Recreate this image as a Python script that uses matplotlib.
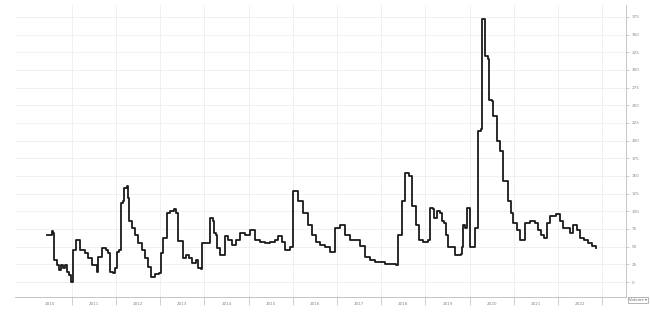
import numpy as np
import matplotlib
matplotlib.use("Agg")
import matplotlib.pyplot as plt

# dates as decimal years
t = [2010.43, 2010.55, 2010.57, 2010.59, 2010.66, 2010.71, 2010.75, 2010.80, 2010.84, 2010.89,
     2010.93, 2010.99, 2011.02, 2011.09, 2011.16, 2011.18, 2011.29, 2011.36, 2011.45, 2011.57,
     2011.59, 2011.68, 2011.77, 2011.81, 2011.86, 2011.93, 2011.97, 2012.02, 2012.06, 2012.11,
     2012.15, 2012.18, 2012.24, 2012.27, 2012.29, 2012.36, 2012.43, 2012.49, 2012.58, 2012.65,
     2012.72, 2012.79, 2012.88, 2012.97, 2013.01, 2013.06, 2013.15, 2013.22, 2013.31, 2013.35,
     2013.40, 2013.51, 2013.58, 2013.65, 2013.72, 2013.81, 2013.85, 2013.92, 2013.94, 2014.06,
     2014.12, 2014.19, 2014.21, 2014.26, 2014.28, 2014.35, 2014.42, 2014.46, 2014.53, 2014.62,
     2014.71, 2014.80, 2014.92, 2015.03, 2015.14, 2015.26, 2015.37, 2015.48, 2015.59, 2015.66,
     2015.75, 2015.82, 2015.93, 2016.00, 2016.12, 2016.23, 2016.34, 2016.43, 2016.52, 2016.61,
     2016.73, 2016.84, 2016.95, 2017.07, 2017.18, 2017.29, 2017.41, 2017.52, 2017.63, 2017.75,
     2017.86, 2018.08, 2018.33, 2018.38, 2018.47, 2018.54, 2018.63, 2018.70, 2018.79, 2018.85,
     2018.94, 2019.06, 2019.10, 2019.17, 2019.19, 2019.26, 2019.33, 2019.37, 2019.42, 2019.47,
     2019.51, 2019.67, 2019.80, 2019.83, 2019.85, 2019.90, 2019.94, 2019.96, 2020.01, 2020.08,
     2020.12, 2020.19, 2020.26, 2020.28, 2020.33, 2020.35, 2020.42, 2020.44, 2020.51, 2020.53,
     2020.60, 2020.62, 2020.69, 2020.76, 2020.82, 2020.87, 2020.94, 2020.98, 2021.07, 2021.14,
     2021.21, 2021.25, 2021.37, 2021.48, 2021.55, 2021.62, 2021.68, 2021.75, 2021.82, 2021.96,
     2022.05, 2022.11, 2022.20, 2022.27, 2022.34, 2022.43, 2022.50, 2022.59, 2022.68, 2022.77,
     2022.86]
values = [66, 72, 70, 31, 24, 17, 24, 20, 24, 14,
          10, 0, 45, 60, 59, 45, 41, 34, 24, 14,
          35, 48, 46, 41, 14, 13, 20, 42, 45, 112,
          115, 133, 136, 119, 87, 76, 66, 55, 45, 34,
          21, 7, 11, 13, 41, 62, 97, 101, 103, 97,
          58, 34, 38, 34, 27, 31, 20, 18, 55, 55,
          90, 87, 70, 66, 48, 38, 38, 65, 59, 52,
          59, 70, 66, 73, 59, 56, 55, 56, 59, 65,
          56, 45, 49, 129, 115, 98, 80, 66, 56, 52,
          49, 42, 76, 80, 66, 59, 59, 51, 35, 31,
          28, 25, 24, 66, 115, 154, 150, 108, 80, 59,
          56, 59, 105, 103, 90, 100, 98, 87, 84, 66,
          49, 38, 39, 49, 80, 77, 105, 105, 49, 49,
          77, 213, 216, 372, 372, 319, 316, 258, 256, 235,
          235, 199, 185, 143, 143, 115, 97, 84, 73, 59,
          59, 84, 87, 83, 73, 66, 62, 84, 94, 96,
          87, 76, 76, 70, 80, 73, 62, 59, 55, 51,
          48]

years = list(range(2010, 2023))
y_ticks = list(range(0, 376, 25))

fig = plt.figure(figsize=(6.5, 3.22), dpi=100)
ax = fig.add_axes([0.023, 0.078, 0.94, 0.907])

ax.plot(t, values, color="#1a1a1a", lw=1.3, drawstyle="steps-post")

ax.set_xlim(2009.71, 2023.54)
ax.set_ylim(-21, 392)

# year boundaries: gridlines + ticks, labels sit mid-year
ax.set_xticks([y + 1 for y in years[:-1]] + [2023])
ax.set_xticklabels([])
ax.set_xticks([y + 0.5 for y in years], minor=True)
ax.set_xticklabels([str(y) for y in years], minor=True, fontsize=3, color="#888888")
ax.tick_params(axis="x", which="major", length=6, width=0.5, color="#bbbbbb")
ax.tick_params(axis="x", which="minor", length=0, pad=4)

ax.yaxis.tick_right()
ax.set_yticks(y_ticks)
ax.set_yticklabels([str(v) for v in y_ticks], fontsize=3, color="#888888")
ax.tick_params(axis="y", length=2, width=0.5, color="#bbbbbb", pad=2)

ax.grid(True, which="major", color="#eeeeee", lw=0.6)
for s in ["top", "left"]:
    ax.spines[s].set_visible(False)
ax.spines["bottom"].set_color("#bbbbbb")
ax.spines["right"].set_color("#bbbbbb")
ax.spines["bottom"].set_linewidth(0.6)
ax.spines["right"].set_linewidth(0.6)

fig.text(0.995, 0.068, "Volume \u25be", fontsize=2.8, color="#666666", ha="right", va="center",
         bbox=dict(boxstyle="square,pad=0.3", fc="white", ec="#999999", lw=0.5))

fig.savefig("out.png", dpi=100)
